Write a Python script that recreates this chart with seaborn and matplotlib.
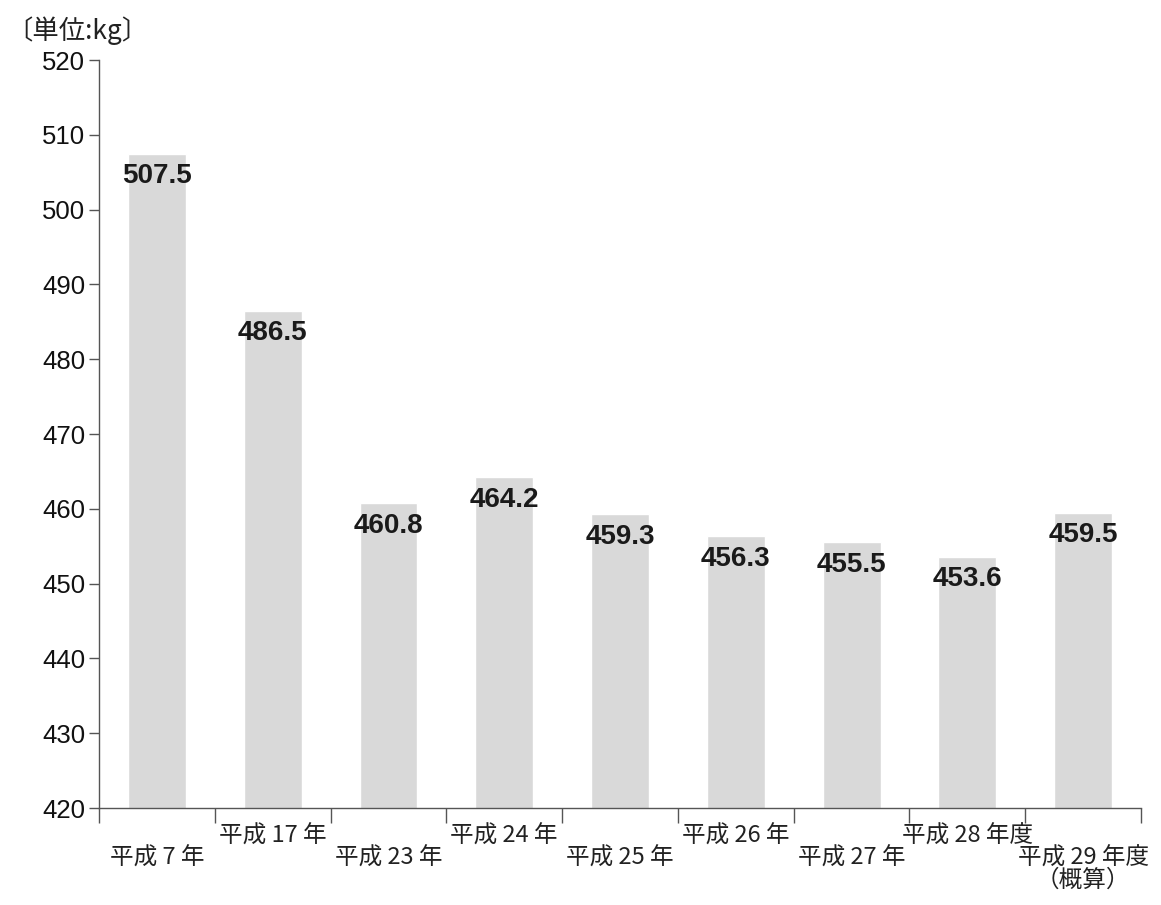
import matplotlib
matplotlib.use("Agg")
import matplotlib.pyplot as plt
import matplotlib.transforms as mtransforms
import seaborn as sns
import pandas as pd

# Per-capita amount by year (unit: kg)
periods = ["平成 7 年", "平成 17 年", "平成 23 年", "平成 24 年", "平成 25 年",
           "平成 26 年", "平成 27 年", "平成 28 年度", "平成 29 年度\n（概算）"]
values = [507.5, 486.5, 460.8, 464.2, 459.3, 456.3, 455.5, 453.6, 459.5]
yticks = [420, 430, 440, 450, 460, 470, 480, 490, 500, 510, 520]
unit_label = "〔単位:kg〕"

sns.set_theme(style="white")
plt.rcParams["font.family"] = ["Liberation Sans", "Noto Sans CJK JP", "DejaVu Sans"]

fig = plt.figure(figsize=(11.61, 9.05), dpi=100)
ax = fig.add_axes([99 / 1161, 1 - 808 / 905, (1141 - 99) / 1161, (808 - 60) / 905])

df = pd.DataFrame({"period": periods, "value": values})
sns.barplot(data=df, x="period", y="value", color="#d9d9d9", saturation=1,
            width=0.5, ax=ax)

ax.set_ylim(420, 520)
ax.set_xlim(-0.5, len(periods) - 0.5)
ax.set_yticks(yticks)
ax.set_yticklabels([str(t) for t in yticks], fontsize=18.5, family="Liberation Sans")
ax.set_xlabel("")
ax.set_ylabel("")

# Boundary ticks between categories, labels placed separately in two staggered rows
ax.set_xticks([i - 0.5 for i in range(len(periods) + 1)])
ax.set_xticklabels([])
ax.tick_params(axis="x", direction="out", length=11, width=1, color="#555555", bottom=True)
ax.tick_params(axis="y", direction="out", length=7, width=1, color="#555555", left=True,
               pad=3, labelcolor="#111111")

for side in ["top", "right"]:
    ax.spines[side].set_visible(False)
for side in ["left", "bottom"]:
    ax.spines[side].set_color("#555555")
    ax.spines[side].set_linewidth(1.0)

trans = mtransforms.blended_transform_factory(ax.transData, ax.transAxes)
for i, lab in enumerate(periods):
    y = -0.022 if i % 2 == 1 else -0.052
    ax.text(i, y, lab, transform=trans, ha="center", va="top", fontsize=17,
            family=["Noto Sans CJK JP", "DejaVu Sans"], color="#222222",
            linespacing=0.95)

# Value labels just inside the top of each bar
for i, v in enumerate(values):
    ax.annotate(f"{v:.1f}", xy=(i, v), xytext=(0, -7), textcoords="offset points",
                ha="center", va="top", fontsize=20, fontweight="bold",
                family="Liberation Sans", color="#1a1a1a")

fig.text(6 / 1161, 1 - 16 / 905, unit_label, ha="left", va="top", fontsize=19,
         family=["Noto Sans CJK JP", "DejaVu Sans"], color="#222222")

fig.savefig("out.png", dpi=100, facecolor="white")
